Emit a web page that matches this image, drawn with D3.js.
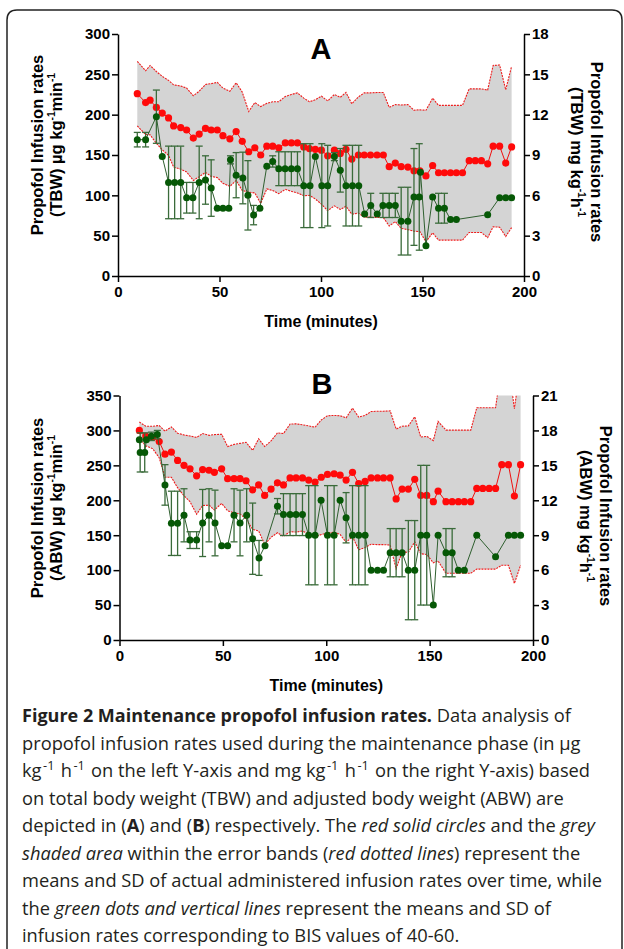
<!DOCTYPE html>
<html lang="en">
<head>
<meta charset="UTF-8" />
<title>Maintenance propofol infusion rates</title>
<script src="https://cdn.jsdelivr.net/npm/d3@7/dist/d3.min.js"></script>
<style>
  body { margin: 0; background: #fff; }
  svg { display: block; }
  .axis path, .axis line { stroke: #000; stroke-width: 1.5px; }
  .axis text { font: bold 15px "Liberation Sans", Arial, sans-serif; fill: #000; }
</style>
</head>
<body>
<svg width="624" height="949"></svg>
<script>
// ---- Panel A (TBW): actual administered infusion rates, ug/kg/min ----
const timeA = [9.5, 13.6, 15.8, 18.9, 21.8, 24.9, 27.4, 30.9, 33.8, 37.1,
  40, 43.1, 45.9, 48.9, 51.7, 55.1, 58.2, 61.2, 64.4, 67.4,
  70.3, 73.3, 76.2, 79.2, 82.4, 85.4, 88.4, 91.5, 94.3, 97.2,
  100.2, 103.3, 106.6, 109.5, 112.3, 115.2, 118.4, 121.3, 124.4, 127.6,
  130.7, 133.6, 136.6, 139.5, 142.8, 145.8, 148.7, 151.7, 155, 157.9,
  160.8, 163.8, 166.7, 169.7, 173, 176, 179, 182.1, 184.8, 188, 191, 193.9];
const meanA = [226, 215, 218, 209, 202, 196, 186, 184, 181, 171,
  176, 183, 181, 181, 174, 170, 179, 167, 154, 159,
  150, 161, 161, 159, 165, 165, 165, 160, 158, 157,
  156, 149, 156, 152, 157, 145, 150, 150, 150, 150,
  150, 135.5, 140, 135.5, 135, 130.5, 130.5, 124, 137, 128,
  128, 128, 128, 128, 143, 143, 143, 139, 161, 161, 140, 160];
const sdA = [40, 39.5, 43, 44.5, 45.5, 46.5, 51, 51.5, 52, 52.5,
  53, 54.5, 57.5, 59, 59, 59, 60.5, 61, 50, 56,
  60, 53, 55, 57, 57.5, 60, 62, 60.5, 58, 61.5,
  67, 68, 69, 69.5, 70.5, 68.5, 72, 77, 77, 77.5,
  77.5, 73.5, 72.5, 76.5, 77.5, 75, 75.5, 81.5, 83.5, 83.5,
  83.5, 83.5, 83.5, 83.5, 89, 89, 89, 91.5, 100, 100.5, 91, 100];

// ---- Panel A (TBW): rates at BIS 40-60 ----
const bisTimeA = [9.5, 13.6, 18.9, 21.8, 24.9, 27.9, 30.9, 33.8, 36.9, 40,
  43.1, 45.9, 48.9, 51.7, 54.6, 55.4, 58.2, 61.5, 64, 66.8,
  69.9, 73.3, 76.2, 79.2, 82.3, 85.4, 88.4, 91.5, 94.6, 97.2,
  100.4, 103.3, 106.6, 109.5, 112.3, 115.5, 118.6, 121.5, 124.5, 127.7,
  130.5, 133.6, 136.6, 139.5, 142.8, 145.8, 148.4, 149, 151.7, 155,
  157.9, 160.8, 163.8, 166.7, 182.1, 188, 191, 193.9];
const bisMeanA = [169, 169, 197.5, 148, 116, 116, 116, 97, 97, 116,
  119, 109, 84, 84, 84, 144, 125, 121.5, 100, 75.5,
  84, 136, 142, 133, 133, 133, 133, 112, 112, 148,
  112, 112, 148, 131, 112, 112, 112, 77, 87.5, 77,
  87.5, 87.5, 87.5, 68, 68, 98, 98, 128.5, 37.5, 98,
  84, 84, 70, 70, 76, 97, 97, 97];
const bisSdA = [9, 9, 33, 0, 45, 45, 45, 19, 19, 45,
  30, 35, 0, 0, 0, 5, 28, 32, 43, 12,
  0, 0, 7, 21, 21, 21, 21, 52, 52, 0,
  52, 50, 5, 27, 50, 50, 50, 0, 15, 0,
  15, 15, 15, 42, 42, 60, 66, 0, 0, 0,
  18.5, 18.5, 0, 0, 0, 0, 0, 0];

// ---- Panel B (ABW): actual administered infusion rates ----
const timeB = [9.6, 12.7, 16, 19.2, 22, 25.1, 28.1, 31.2, 34.1, 37.3,
  40.2, 43.3, 45.9, 49.4, 52.3, 55.4, 58.3, 61.2, 64.4, 67.3,
  70.2, 73.3, 76.4, 79.3, 82.5, 85.4, 88.5, 91.5, 94.6, 97.6,
  100.6, 103.8, 106.7, 109.6, 112.7, 115.7, 118.8, 121.7, 124.8, 127.7,
  130.9, 133.8, 136.7, 139.7, 142.8, 145.7, 148.6, 151.8, 154.1, 157.9,
  160.9, 163.9, 166.8, 169.9, 172.8, 175.7, 178.8, 181.9, 184.9, 188.1, 191, 194];
const meanB = [300, 292, 290, 284, 266, 269, 257, 250, 245, 235,
  244, 243, 240, 245, 231, 231, 231, 228, 215, 222,
  207, 216, 225, 222, 232, 232, 232, 229, 226, 233,
  237, 238, 236, 229, 240, 224, 227, 232, 232, 232,
  232, 202, 216, 216, 230, 207, 207, 198, 213, 198,
  198, 198, 198, 198, 217, 217, 217, 217, 251, 251, 206, 251];
const sdB = [12, 14, 16, 23, 33, 36, 39, 43.5, 47, 55,
  51.5, 50, 54, 49.5, 46, 49, 50.5, 55, 56.5, 66,
  70, 69, 71.5, 73.5, 77, 77.5, 76, 77.5, 78.5, 82,
  84, 83.5, 85, 89, 92, 95, 94.5, 95, 95.5, 95.5,
  96, 100, 90, 90.5, 89.5, 83.5, 84.5, 87.5, 100, 102.5,
  102.5, 102.5, 102.5, 102.5, 115.5, 115.5, 115.5, 115.5, 144, 144, 125, 144];

// ---- Panel B (ABW): rates at BIS 40-60 ----
const bisTimeB = [9.6, 10, 12.2, 13, 15.4, 18.3, 22, 25.1, 28.1, 31.2,
  34.1, 37.3, 40.2, 43.3, 46.2, 49.4, 52.3, 55.4, 58.3, 61.5,
  64.4, 67.5, 70.4, 76.4, 79.3, 82.5, 85.4, 88.5, 91.5, 94.6,
  97.5, 100.6, 103.8, 106.7, 109.6, 112.7, 115.7, 118.8, 121.7, 124.8,
  127.7, 130.9, 133.8, 136.7, 139.7, 142.8, 145.7, 148.6, 151.8, 154.1,
  157.9, 160.9, 163.9, 166.8, 172.8, 181.9, 188.1, 191, 194];
const bisMeanB = [286.5, 268.5, 268.5, 286.5, 291.5, 294, 222, 167, 167, 178.5,
  143, 143, 167.5, 178.5, 167.5, 135, 135, 178.5, 167.5, 178.5,
  145, 117.5, 135, 191.5, 179.5, 179.5, 179.5, 179.5, 150, 150,
  200, 150, 150, 200, 175, 150, 150, 150, 100, 100,
  100, 125, 125, 125, 100, 100, 150, 150, 50, 150,
  125, 125, 100, 100, 150, 119, 150, 150, 150];
const bisSdB = [0, 28, 28, 0, 6, 6, 29, 46, 46, 38,
  12, 12, 48, 38, 47, 0, 0, 38, 47, 38,
  51, 25, 0, 11, 30, 30, 30, 30, 71, 71,
  0, 71, 71, 0, 36, 71, 71, 71, 0, 0,
  0, 34.5, 34.5, 34.5, 71, 71, 100, 100, 0, 0,
  34.5, 34.5, 0, 0, 0, 0, 0, 0, 0];

// ---- axis ticks ----
const timeTicks = [0, 50, 100, 150, 200];
const leftTicksA = [0, 50, 100, 150, 200, 250, 300];
const rightTicksA = [0, 3, 6, 9, 12, 15, 18];
const leftTicksB = [0, 50, 100, 150, 200, 250, 300, 350];
const rightTicksB = [0, 3, 6, 9, 12, 15, 18, 21];

const svg = d3.select("svg");
const chartFont = '"Liberation Sans", Arial, sans-serif';

// frame around the figure
svg.append("path")
  .attr("d", "M7,960 V20 Q7,10 17,10 H612 Q622,10 622,20 V960")
  .attr("fill", "none")
  .attr("stroke", "#222")
  .attr("stroke-width", 1.5);

function richText(sel, parts, size, supScale, supGap) {
  supScale = supScale || 0.62;
  supGap = supGap || 0;
  let shifted = false;
  parts.forEach(([str, kind]) => {
    const ts = sel.append("tspan").text(str);
    if (kind === "sup") {
      ts.attr("font-size", size * supScale).attr("dy", -size * 0.4).attr("dx", supGap);
      shifted = true;
    } else {
      if (shifted) { ts.attr("dy", size * 0.4).attr("dx", supGap); shifted = false; }
      if (kind === "b") ts.attr("font-weight", "bold");
      if (kind === "i") ts.attr("font-style", "italic");
    }
  });
}

function drawPanel(p) {
  const x = d3.scaleLinear().domain([0, 200]).range([p.left, p.right]);
  const y = d3.scaleLinear().domain([0, p.yMax]).range([p.bottom, p.top]);
  const yR = d3.scaleLinear().domain([0, p.rMax]).range([p.bottom, p.top]);
  const g = svg.append("g");

  const clipId = "clip" + p.label;
  svg.append("clipPath").attr("id", clipId)
    .append("rect")
    .attr("x", p.left).attr("y", p.top)
    .attr("width", p.right - p.left).attr("height", p.bottom - p.top);

  const rows = p.time.map((t, i) => ({ t, m: p.mean[i], s: p.sd[i] }));
  const bis = p.bisTime.map((t, i) => ({ t, m: p.bisMean[i], s: p.bisSd[i] }));

  const band = g.append("g").attr("clip-path", `url(#${clipId})`);
  band.append("path")
    .datum(rows)
    .attr("fill", "#d4d4d4")
    .attr("d", d3.area().x(d => x(d.t)).y0(d => y(d.m - d.s)).y1(d => y(d.m + d.s)));
  [1, -1].forEach(sign => {
    band.append("path")
      .datum(rows)
      .attr("fill", "none")
      .attr("stroke", "#ee1c1c")
      .attr("stroke-width", 1.1)
      .attr("stroke-dasharray", "2,1")
      .attr("d", d3.line().x(d => x(d.t)).y(d => y(d.m + sign * d.s)));
  });

  // red means
  g.append("path")
    .datum(rows)
    .attr("fill", "none")
    .attr("stroke", "#f01010")
    .attr("stroke-width", 1)
    .attr("d", d3.line().x(d => x(d.t)).y(d => y(d.m)));
  g.append("g").selectAll("circle")
    .data(rows)
    .join("circle")
    .attr("cx", d => x(d.t))
    .attr("cy", d => y(d.m))
    .attr("r", 3.6)
    .attr("fill", "#ff0a0a");

  // green error bars
  const eb = g.append("g")
    .attr("stroke", "#3a6b3a")
    .attr("stroke-width", 1.3)
    .selectAll("g")
    .data(bis.filter(d => d.s > 0))
    .join("g");
  eb.append("line")
    .attr("x1", d => x(d.t)).attr("x2", d => x(d.t))
    .attr("y1", d => y(d.m - d.s)).attr("y2", d => y(d.m + d.s));
  eb.append("line")
    .attr("x1", d => x(d.t) - 3.5).attr("x2", d => x(d.t) + 3.5)
    .attr("y1", d => y(d.m + d.s)).attr("y2", d => y(d.m + d.s));
  eb.append("line")
    .attr("x1", d => x(d.t) - 3.5).attr("x2", d => x(d.t) + 3.5)
    .attr("y1", d => y(d.m - d.s)).attr("y2", d => y(d.m - d.s));

  g.append("path")
    .datum(bis)
    .attr("fill", "none")
    .attr("stroke", "#2f5f2f")
    .attr("stroke-width", 1)
    .attr("d", d3.line().x(d => x(d.t)).y(d => y(d.m)));
  g.append("g").selectAll("circle")
    .data(bis)
    .join("circle")
    .attr("cx", d => x(d.t))
    .attr("cy", d => y(d.m))
    .attr("r", 3.5)
    .attr("fill", "#065806");

  // axes
  g.append("g").attr("class", "axis")
    .attr("transform", `translate(${p.left},0)`)
    .call(d3.axisLeft(y).tickValues(p.leftTicks).tickSize(6).tickSizeOuter(0).tickPadding(2));
  g.append("g").attr("class", "axis")
    .attr("transform", `translate(${p.right},0)`)
    .call(d3.axisRight(yR).tickValues(p.rightTicks).tickSize(6).tickSizeOuter(0).tickPadding(2));
  g.append("g").attr("class", "axis")
    .attr("transform", `translate(0,${p.bottom})`)
    .call(d3.axisBottom(x).tickValues(timeTicks).tickSize(6).tickSizeOuter(0).tickPadding(4));

  // panel letter
  g.append("text")
    .attr("x", p.letterX).attr("y", p.letterY)
    .attr("text-anchor", "middle")
    .style("font", `bold 29px ${chartFont}`)
    .text(p.label);

  // x title
  g.append("text")
    .attr("x", (p.left + p.right) / 2).attr("y", p.bottom + 51)
    .attr("text-anchor", "middle")
    .style("font", `bold 16px ${chartFont}`)
    .text("Time (minutes)");

  // left title
  const lt = g.append("text")
    .attr("transform", `translate(0,${p.titleL}) rotate(-90)`)
    .attr("text-anchor", "middle")
    .style("font", `bold 16.5px ${chartFont}`);
  lt.append("tspan").attr("x", 0).attr("y", 43).text("Propofol Infusion rates");
  const lt2 = lt.append("tspan").attr("x", 0).attr("y", 62);
  richText(lt2, [[`(${p.weight}) \u00b5g kg`, ""], ["-1", "sup"], ["min", ""], ["-1", "sup"]], 16.5);

  // right title
  const rt = g.append("text")
    .attr("transform", `translate(0,${p.titleR}) rotate(90)`)
    .attr("text-anchor", "middle")
    .style("font", `bold 16.5px ${chartFont}`);
  rt.append("tspan").attr("x", 0).attr("y", -(p.right + 67)).text("Propofol Infusion rates");
  const rt2 = rt.append("tspan").attr("x", 0).attr("y", -(p.right + 47));
  richText(rt2, [[`(${p.weight}) mg kg`, ""], ["-1", "sup"], ["h", ""], ["-1", "sup"]], 16.5);
}

drawPanel({
  label: "A", weight: "TBW",
  time: timeA, mean: meanA, sd: sdA,
  bisTime: bisTimeA, bisMean: bisMeanA, bisSd: bisSdA,
  yMax: 300, rMax: 18, leftTicks: leftTicksA, rightTicks: rightTicksA,
  left: 118, right: 524, top: 34, bottom: 276,
  letterX: 321, letterY: 59, titleL: 145, titleR: 152
});

drawPanel({
  label: "B", weight: "ABW",
  time: timeB, mean: meanB, sd: sdB,
  bisTime: bisTimeB, bisMean: bisMeanB, bisSd: bisSdB,
  yMax: 350, rMax: 21, leftTicks: leftTicksB, rightTicks: rightTicksB,
  left: 119.5, right: 533, top: 395.5, bottom: 640,
  letterX: 322, letterY: 394, titleL: 508, titleR: 516
});

// caption
const captionLines = [
  [["Figure 2 Maintenance propofol infusion rates.", "b"], [" Data analysis of", ""]],
  [["propofol infusion rates used during the maintenance phase (in \u00b5g", ""]],
  [["kg", ""], ["-1", "sup"], [" h", ""], ["-1", "sup"], [" on the left Y-axis and mg kg", ""], ["-1", "sup"], [" h", ""], ["-1", "sup"], [" on the right Y-axis) based", ""]],
  [["on total body weight (TBW) and adjusted body weight (ABW) are", ""]],
  [["depicted in (", ""], ["A", "b"], [") and (", ""], ["B", "b"], [") respectively. The ", ""], ["red solid circles", "i"], [" and the ", ""], ["grey", "i"]],
  [["shaded area", "i"], [" within the error bands (", ""], ["red dotted lines", "i"], [") represent the", ""]],
  [["means and SD of actual administered infusion rates over time, while", ""]],
  [["the ", ""], ["green dots and vertical lines", "i"], [" represent the means and SD of", ""]],
  [["infusion rates corresponding to BIS values of 40-60.", ""]]
];
const capSize = 18.3;
const cap = svg.append("g")
  .style("font-family", '"Open Sans", "Noto Sans", sans-serif')
  .style("font-size", capSize + "px")
  .attr("fill", "#231f20");
captionLines.forEach((parts, i) => {
  const t = cap.append("text").attr("x", 22).attr("y", 722 + i * 27.5);
  richText(t, parts, capSize, 0.7, 1.5);
});
// keep the bold lead-in at the reference width
cap.select("text tspan").attr("textLength", 410).attr("lengthAdjust", "spacingAndGlyphs");
</script>
</body>
</html>
